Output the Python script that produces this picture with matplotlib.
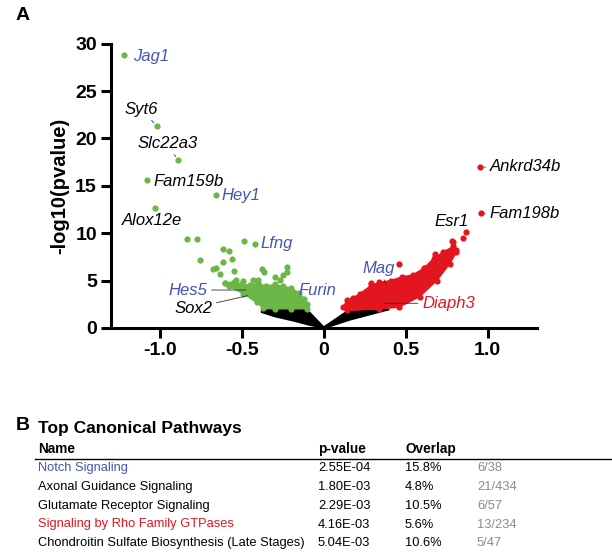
import numpy as np
from matplotlib import pyplot as plt

plt.rcParams['font.family'] = ['Liberation Sans', 'DejaVu Sans']

GREEN = '#6cb547'
RED = '#e3161f'
BLUE = '#4555b0'
GRAY = '#8c8c8c'

# labelled genes: name, log2FC, -log10(p), label x, label y, label colour
genes = ['Jag1', 'Syt6', 'Slc22a3', 'Fam159b', 'Hey1', 'Alox12e', 'Lfng',
         'Hes5', 'Sox2', 'Furin', 'Mag', 'Diaph3', 'Esr1', 'Ankrd34b', 'Fam198b']
gene_x = [-1.218, -1.02, -0.892, -1.081, -0.66, -1.03, -0.42,
          -0.45, -0.44, -0.20, 0.39, 0.34, 0.866, 0.951, 0.957]
gene_y = [28.8, 21.3, 17.7, 15.6, 14.0, 12.7, 8.87,
          4.0, 3.5, 4.0, 4.3, 2.6, 10.1, 16.97, 12.1]
label_x = [-1.165, -1.213, -1.138, -1.04, -0.625, -1.234, -0.385,
           -0.71, -0.68, -0.152, 0.236, 0.60, 0.677, 1.012, 1.012]
label_y = [28.7, 23.1, 19.5, 15.5, 14.0, 11.3, 8.87,
           4.0, 2.1, 4.0, 6.3, 2.6, 11.2, 17.0, 12.1]
label_ha = ['left', 'left', 'left', 'left', 'left', 'left', 'left',
            'right', 'right', 'left', 'left', 'left', 'left', 'left', 'left']
label_col = [BLUE, 'black', 'black', 'black', BLUE, 'black', BLUE,
             BLUE, 'black', BLUE, BLUE, RED, 'black', 'black', 'black']
leader = [False, True, True, True, True, True, True,
          True, True, False, True, True, True, True, True]

# isolated significant points (down / up)
down_x = [-0.833, -0.772, -0.488, -0.756, -0.614, -0.579, -0.563, -0.618,
          -0.659, -0.679, -0.634, -0.549, -0.374, -0.366, -0.227, -0.227,
          -0.299, -0.268, -0.604, -0.533, -0.492, -0.431, -0.40, -0.25]
down_y = [9.4, 9.4, 9.2, 7.2, 8.34, 8.16, 7.25, 6.93,
          6.3, 6.2, 5.7, 6.05, 6.2, 5.9, 6.4, 5.9,
          5.4, 5.07, 4.7, 5.07, 5.0, 5.07, 5.07, 5.6]
up_x = [0.457, 0.79, 0.81, 0.85, 0.785, 0.738, 0.677, 0.687, 0.616, 0.75, 0.68, 0.29]
up_y = [6.76, 9.1, 8.2, 9.5, 9.2, 7.9, 7.5, 7.0, 6.3, 8.06, 7.8, 4.7]

# outline of the dense clouds
green_x = [-0.60, -0.55, -0.50, -0.45, -0.40, -0.35, -0.30, -0.25, -0.20, -0.15,
           -0.12, -0.105, -0.10, -0.20, -0.30, -0.37, -0.41, -0.49, -0.58]
green_y = [4.7, 4.9, 4.6, 4.5, 4.7, 4.4, 4.6, 4.4, 4.2, 3.7,
           3.1, 2.5, 2.05, 2.05, 2.05, 2.1, 2.7, 3.6, 4.4]
red_x = [0.14, 0.34, 0.46, 0.585, 0.69, 0.77, 0.81, 0.79, 0.73, 0.67, 0.61,
         0.545, 0.48, 0.41, 0.34, 0.29, 0.22, 0.18, 0.14, 0.12]
red_y = [1.85, 2.0, 2.2, 3.3, 5.0, 6.8, 8.0, 8.6, 8.0, 7.3, 6.3,
         5.6, 5.4, 5.0, 4.8, 4.5, 3.6, 3.2, 2.9, 2.2]
black_x = [-0.38, -0.23, -0.10, -0.05, 0.0, 0.06, 0.138, 0.25, 0.34, 0.40,
           0.38, 0.159, 0.01, -0.01, -0.10, -0.187, -0.30, -0.38]
black_y = [1.9, 1.9, 1.9, 1.0, 0.1, 0.8, 1.72, 1.85, 1.9, 1.95,
           1.85, 0.84, 0.0, 0.0, 0.35, 0.75, 1.2, 1.65]

# pathway table
pathways = ['Notch Signaling', 'Axonal Guidance Signaling', 'Glutamate Receptor Signaling',
            'Signaling by Rho Family GTPases', 'Chondroitin Sulfate Biosynthesis (Late Stages)']
pvalues = ['2.55E-04', '1.80E-03', '2.29E-03', '4.16E-03', '5.04E-03']
overlap = ['15.8%', '4.8%', '10.5%', '5.6%', '10.6%']
counts = ['6/38', '21/434', '6/57', '13/234', '5/47']
path_col = [BLUE, 'black', 'black', RED, 'black']

fig = plt.figure(figsize=(6.12, 5.53), dpi=100)
ax = fig.add_axes([0.181, 0.407, 0.696, 0.514])

ms = 20
ax.fill(black_x, black_y, color='black', lw=1.0, zorder=2)
ax.fill(green_x, green_y, color=GREEN, lw=1.0, zorder=2)
ax.scatter(green_x, green_y, s=ms, color=GREEN, lw=0, zorder=2)
ax.fill(red_x, red_y, color=RED, lw=1.0, zorder=2)
ax.scatter(red_x, red_y, s=ms, color=RED, lw=0, zorder=2)
ax.scatter(down_x, down_y, s=ms, color=GREEN, lw=0, zorder=5)
ax.scatter(up_x, up_y, s=ms, color=RED, lw=0, zorder=5)

for i, g in enumerate(genes):
    pc = GREEN if gene_x[i] < 0 else RED
    ax.scatter([gene_x[i]], [gene_y[i]], s=ms, color=pc, lw=0, zorder=5)
    ap = dict(arrowstyle='-', lw=0.6, color='#333333', shrinkA=1, shrinkB=3) if leader[i] else None
    ax.annotate(g, xy=(gene_x[i], gene_y[i]), xytext=(label_x[i], label_y[i]),
                ha=label_ha[i], va='center', fontsize=12, style='italic',
                color=label_col[i], arrowprops=ap, zorder=4)

ax.set_xlim(-1.3, 1.3)
ax.set_ylim(0, 30)
ax.set_xticks([-1.0, -0.5, 0, 0.5, 1.0])
ax.set_xticklabels(['-1.0', '-0.5', '0', '0.5', '1.0'])
ax.set_yticks([0, 5, 10, 15, 20, 25, 30])
for side in ['top', 'right']:
    ax.spines[side].set_visible(False)
for side in ['left', 'bottom']:
    ax.spines[side].set_linewidth(2.2)
ax.tick_params(width=2.2, length=7, labelsize=14, pad=3)
for t in ax.get_xticklabels() + ax.get_yticklabels():
    t.set_fontweight('bold')
ax.set_ylabel('-log10(pvalue)', fontsize=14.5, fontweight='bold', labelpad=4)

fig.text(16 / 612, 1 - 16 / 553, 'A', fontsize=14, fontweight='bold', va='center')
fig.text(16 / 612, 1 - 425 / 553, 'B', fontsize=14, fontweight='bold', va='center')
fig.text(38 / 612, 1 - 428 / 553, 'Top Canonical Pathways', fontsize=12.5,
         fontweight='bold', va='center')

# table header
fs = 9.3
hy = 1 - 449 / 553
fig.text(38 / 612, hy, 'Name', fontsize=9.8, fontweight='bold', va='center')
fig.text(318 / 612, hy, 'p-value', fontsize=9.8, fontweight='bold', va='center')
fig.text(405 / 612, hy, 'Overlap', fontsize=9.8, fontweight='bold', va='center')
fig.add_artist(plt.Line2D([35 / 612, 1.0], [1 - 458.5 / 553] * 2, color='black', lw=1.0))

row_px = [468, 487, 506, 524.5, 543]
for i in range(len(pathways)):
    ry = 1 - row_px[i] / 553
    fig.text(38 / 612, ry, pathways[i], fontsize=fs, color=path_col[i], va='center')
    fig.text(318 / 612, ry, pvalues[i], fontsize=fs, va='center')
    fig.text(405 / 612, ry, overlap[i], fontsize=fs, va='center')
    fig.text(477 / 612, ry, counts[i], fontsize=fs, color=GRAY, va='center')

fig.savefig('out.png', dpi=100)
